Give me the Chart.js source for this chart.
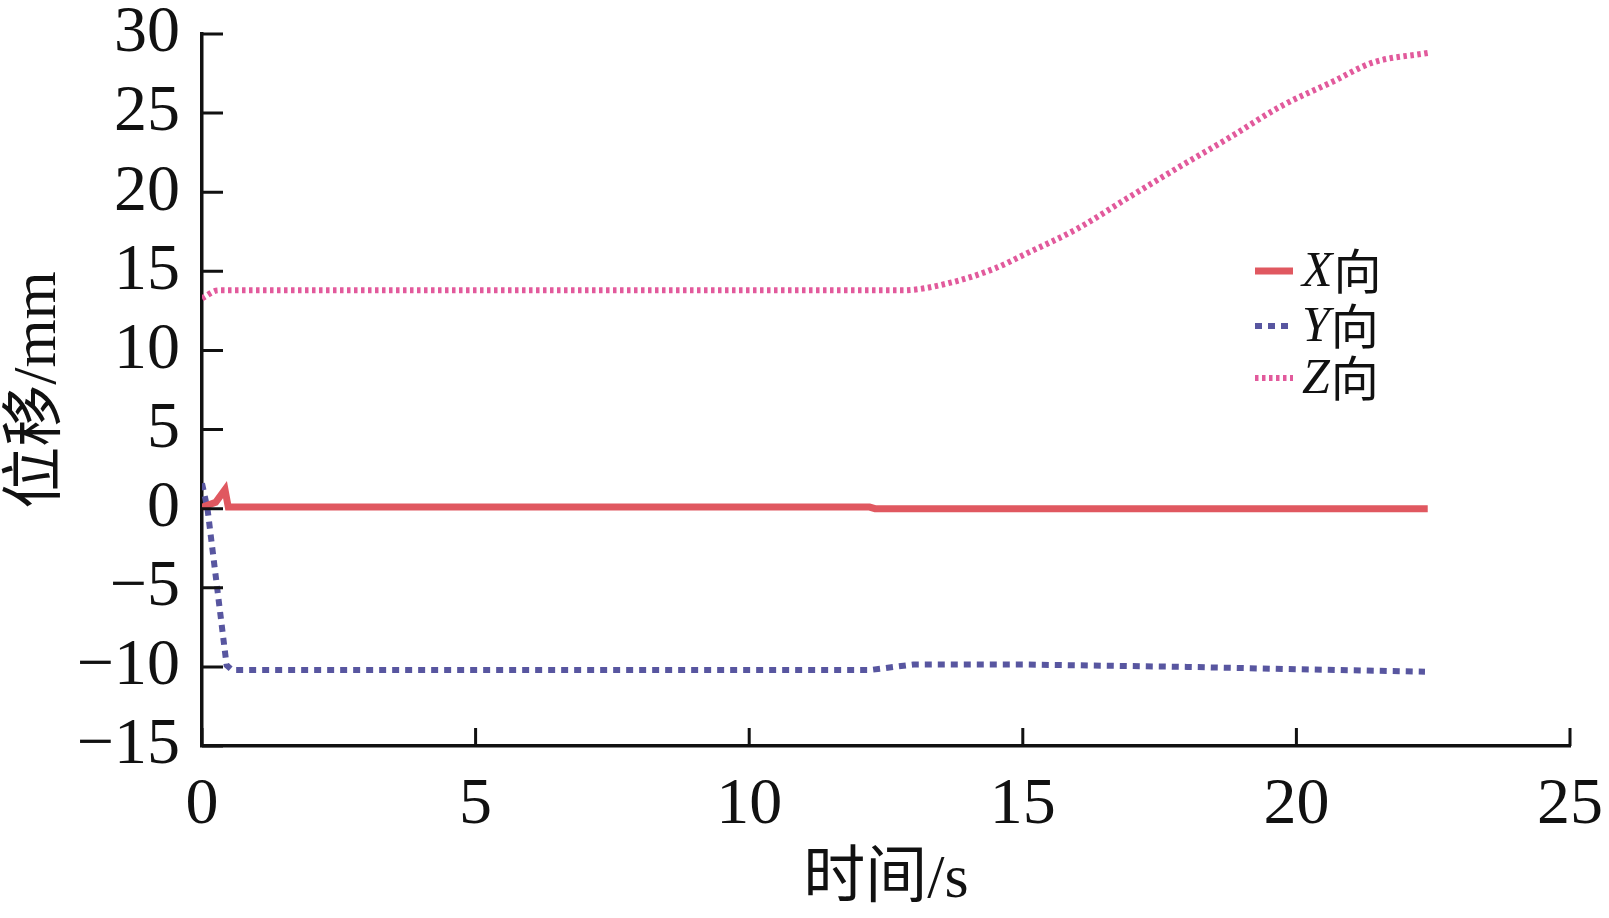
<!DOCTYPE html>
<html>
<head>
<meta charset="utf-8">
<script src="https://cdn.jsdelivr.net/npm/chart.js@4/dist/chart.umd.min.js"></script>
<style>
  body { margin: 0; background: #fff; }
</style>
</head>
<body>
<canvas id="chart" width="1609" height="918"></canvas>
<script>
// data
const seriesNames = ['X向', 'Y向', 'Z向']
const xTime = [0, 0.25, 0.42, 0.48, 12.2, 12.3, 22.4]
const xDisp = [0.1, 0.4, 1.2, 0.1, 0.1, 0.0, 0.0]
const yTime = [0, 0.1, 0.45, 0.55, 12.2, 13, 15, 18, 20, 22.35]
const yDisp = [1.6, 0, -9.9, -10.2, -10.2, -9.85, -9.85, -10.0, -10.15, -10.3]
const zTime = [0, 0.3, 12.8, 13.7, 14.5, 15.05, 16.0, 16.9, 17.86, 18.8, 19.7, 20.67, 21.4, 22.4]
const zDisp = [13.3, 13.8, 13.8, 14.3, 15.2, 16.1, 17.7, 19.6, 21.6, 23.5, 25.4, 27.0, 28.2, 28.8]
const xTicks = [0, 5, 10, 15, 20, 25]
const yTicks = [-15, -10, -5, 0, 5, 10, 15, 20, 25, 30]

const pts = (t, v) => t.map((tt, i) => ({ x: tt, y: v[i] }))
const serif = "'Liberation Serif', 'Noto Sans CJK SC', serif"

// ticks point into the plot
const inwardTicks = {
   id: 'inwardTicks',
   afterDraw(chart) {
      const { ctx, chartArea, scales: { x, y } } = chart
      ctx.save()
      ctx.strokeStyle = '#111'
      ctx.lineWidth = 3
      ctx.beginPath()
      x.ticks.forEach(t => {
         const px = x.getPixelForValue(t.value)
         ctx.moveTo(px, chartArea.bottom)
         ctx.lineTo(px, chartArea.bottom - 18)
      })
      y.ticks.forEach(t => {
         const py = y.getPixelForValue(t.value)
         ctx.moveTo(chartArea.left, py)
         ctx.lineTo(chartArea.left + 21, py)
      })
      ctx.stroke()
      ctx.restore()
   }
}

// legend with italic axis letter
const sideLegend = {
   id: 'sideLegend',
   afterDraw(chart) {
      const ctx = chart.ctx
      const rows = [271, 326, 378]
      ctx.save()
      chart.data.datasets.forEach((ds, i) => {
         const yy = rows[i]
         ctx.strokeStyle = ds.borderColor
         ctx.lineWidth = ds.borderWidth
         ctx.setLineDash(ds.borderDash || [])
         ctx.beginPath()
         ctx.moveTo(1255, yy)
         ctx.lineTo(1293, yy)
         ctx.stroke()
         ctx.setLineDash([])
         ctx.fillStyle = '#111'
         ctx.textBaseline = 'middle'
         ctx.font = "italic 50px 'Liberation Serif', serif"
         const letter = ds.label.charAt(0)
         ctx.fillText(letter, 1302, yy + 2)
         const w = ctx.measureText(letter).width
         ctx.font = "48px 'Noto Sans CJK SC', serif"
         ctx.fillText(ds.label.slice(1), 1302 + w + 1, yy)
      })
      ctx.restore()
   }
}

new Chart(document.getElementById('chart').getContext('2d'), {
   type: 'line',
   data: {
      datasets: [
         {
            label: seriesNames[0],
            data: pts(xTime, xDisp),
            borderColor: 'rgb(224, 88, 96)',
            borderWidth: 7,
            pointRadius: 0
         },
         {
            label: seriesNames[1],
            data: pts(yTime, yDisp),
            borderColor: 'rgb(88, 86, 160)',
            borderWidth: 6,
            borderDash: [7, 6],
            pointRadius: 0
         },
         {
            label: seriesNames[2],
            data: pts(zTime, zDisp),
            borderColor: 'rgb(226, 90, 156)',
            borderWidth: 6,
            borderDash: [3.5, 3.5],
            cubicInterpolationMode: 'monotone',
            pointRadius: 0
         }
      ]
   },
   options: {
      responsive: false,
      animation: false,
      layout: { padding: { top: 34, right: 39, left: 0, bottom: 0 } },
      plugins: { legend: { display: false }, tooltip: { enabled: false } },
      scales: {
         x: {
            type: 'linear',
            min: 0,
            max: 25,
            afterBuildTicks: s => { s.ticks = xTicks.map(v => ({ value: v })) },
            afterFit: s => { s.height = 172; s.paddingLeft = 0; s.paddingRight = 0 },
            grid: { drawOnChartArea: false, drawTicks: false },
            border: { color: '#111', width: 3.5 },
            ticks: { color: '#111', padding: 20, maxRotation: 0, autoSkip: false, font: { family: serif, size: 66 } },
            title: {
               display: true,
               text: '时间/s',
               color: '#111',
               padding: { top: 0, bottom: 0 },
               font: { family: serif, size: 62 }
            }
         },
         y: {
            min: -15,
            max: 30,
            afterBuildTicks: s => { s.ticks = yTicks.map(v => ({ value: v })) },
            afterFit: s => { s.width = 202; s.paddingTop = 0; s.paddingBottom = 0 },
            grid: { drawOnChartArea: false, drawTicks: false },
            border: { color: '#111', width: 3.5 },
            ticks: {
               color: '#111',
               padding: 22,
               autoSkip: false,
               font: { family: serif, size: 66 },
               callback: v => String(v).replace('-', '\u2212')
            },
            title: {
               display: true,
               text: '位移/mm',
               color: '#111',
               padding: { top: 2, bottom: 0 },
               font: { family: serif, size: 62 }
            }
         }
      }
   },
   plugins: [inwardTicks, sideLegend]
})
</script>
</body>
</html>
